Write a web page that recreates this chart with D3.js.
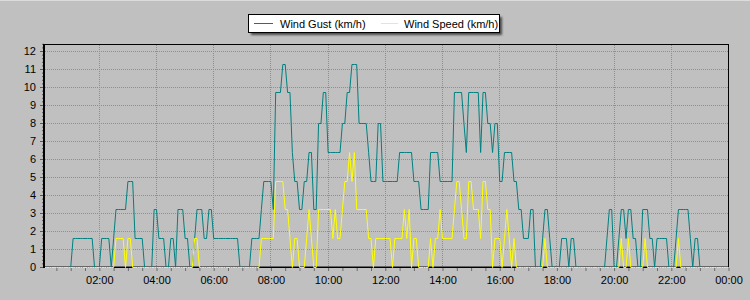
<!DOCTYPE html>
<html>
<head>
<meta charset="utf-8">
<script src="https://cdn.jsdelivr.net/npm/d3@7"></script>
<style>
html,body{margin:0;padding:0;background:#c0c0c0;overflow:hidden}
svg{display:block}
text{font-family:"Liberation Sans",Arial,sans-serif}
</style>
</head>
<body>
<svg id="chart" width="750" height="300"></svg>
<script>
// ---------------- data ----------------
const seriesNames = ["Wind Gust (km/h)", "Wind Speed (km/h)"];
const seriesColors = ["#008080", "#ffff00"];
const firstSampleMinute = 5;   // 00:05
const sampleStepMinutes = 5;   // one reading every 5 minutes, last at 24:00

// one row per hour (12 readings: hh:05 ... hh+1:00)
const gustKmh = [
  0,0,0,0,0,0,0,0,0,0,0,0,
  1.6,1.6,1.6,1.6,1.6,1.6,1.6,1.6,1.6,0,0,0,
  1.6,1.6,1.6,1.6,0,1.6,3.2,3.2,3.2,3.2,3.2,4.8,
  4.8,4.8,1.6,1.6,1.6,1.6,0,0,0,0,3.2,3.2,
  1.6,1.6,1.6,0,0,1.6,1.6,0,3.2,3.2,3.2,1.6,
  1.6,0,0,1.6,3.2,3.2,3.2,1.6,1.6,3.2,3.2,1.6,
  1.6,1.6,1.6,1.6,1.6,1.6,1.6,1.6,1.6,1.6,0,0,
  0,0,0,1.6,1.6,1.6,1.6,3.2,4.8,4.8,4.8,4.8,
  3.2,9.7,9.7,9.7,11.3,11.3,9.7,9.7,6.4,4.8,4.8,3.2,
  3.2,4.8,4.8,6.4,6.4,3.2,3.2,8,8,9.7,9.7,6.4,
  6.4,6.4,6.4,6.4,6.4,8,8,9.7,9.7,11.3,11.3,11.3,
  8,8,8,8,6.4,4.8,4.8,4.8,8,8,4.8,4.8,
  4.8,4.8,4.8,4.8,4.8,6.4,6.4,6.4,6.4,6.4,6.4,4.8,
  4.8,4.8,3.2,3.2,3.2,3.2,6.4,6.4,6.4,6.4,4.8,4.8,
  4.8,4.8,4.8,4.8,9.7,9.7,9.7,9.7,8,6.4,9.7,9.7,
  9.7,9.7,9.7,6.4,9.7,9.7,8,8,6.4,8,8,4.8,
  4.8,6.4,6.4,6.4,6.4,4.8,4.8,3.2,3.2,1.6,1.6,1.6,
  3.2,3.2,0,0,0,1.6,3.2,3.2,1.6,0,0,0,
  0,1.6,1.6,1.6,0,1.6,1.6,0,0,0,0,0,
  0,0,0,0,0,0,0,0,1.6,3.2,3.2,0,
  0,1.6,3.2,3.2,1.6,3.2,3.2,1.6,1.6,0,0,3.2,
  3.2,3.2,1.6,1.6,0,1.6,1.6,1.6,1.6,1.6,0,0,
  0,1.6,3.2,3.2,3.2,3.2,3.2,1.6,0,1.6,1.6,0,
  0,0,0,0,0,0,0,0,0,0,0,0
];

const speedKmh = [
  0,0,0,0,0,0,0,0,0,0,0,0,
  0,0,0,0,0,0,0,0,0,0,0,0,
  0,0,0,0,0,0,1.6,1.6,1.6,1.6,0,1.6,
  1.6,0,0,0,0,0,0,0,0,0,0,0,
  0,0,0,0,0,0,0,0,0,0,0,0,
  0,0,0,1.6,1.6,0,0,0,0,0,0,0,
  0,0,0,0,0,0,0,0,0,0,0,0,
  0,0,0,0,0,0,0,1.6,1.6,1.6,1.6,1.6,
  1.6,4.8,4.8,4.8,4.8,3.2,3.2,1.6,0,1.6,1.6,0,
  0,0,1.6,3.2,1.6,0,0,3.2,3.2,3.2,3.2,3.2,
  3.2,1.6,3.2,1.6,1.6,3.2,4.8,4.8,6.4,4.8,6.4,3.2,
  3.2,3.2,3.2,3.2,1.6,1.6,0,1.6,1.6,1.6,1.6,1.6,
  1.6,1.6,0,1.6,1.6,1.6,1.6,3.2,1.6,3.2,0,1.6,
  1.6,0,0,0,0,0,1.6,0,1.6,1.6,3.2,1.6,
  1.6,1.6,1.6,1.6,3.2,4.8,4.8,3.2,1.6,1.6,4.8,4.8,
  3.2,3.2,3.2,1.6,4.8,4.8,3.2,3.2,0,1.6,1.6,1.6,
  0,1.6,3.2,1.6,0,1.6,0,0,0,0,0,0,
  0,0,0,0,0,0,1.6,0,0,0,0,0,
  0,0,0,0,0,0,0,0,0,0,0,0,
  0,0,0,0,0,0,0,0,0,0,0,0,
  0,0,1.6,0,0,1.6,0,0,0,0,0,0,
  1.6,0,0,0,0,0,0,0,0,0,0,0,
  0,0,1.6,0,0,0,0,0,0,0,0,0,
  0,0,0,0,0,0,0,0,0,0,0,0
];

const yTickValues = [0,1,2,3,4,5,6,7,8,9,10,11,12];
const xLabelMinutes = [120,240,360,480,600,720,840,960,1080,1200,1320,1440];
const xTickLabels = ["02:00","04:00","06:00","08:00","10:00","12:00","14:00","16:00","18:00","20:00","22:00","00:00"];

// ---------------- chart ----------------
const svg = d3.select("#chart");
const plot = {left: 44, top: 44, right: 728.5, bottom: 267};

const sampleMinutes = gustKmh.map((_, i) => firstSampleMinute + i * sampleStepMinutes);
const x = d3.scaleLinear().domain([firstSampleMinute, 1440]).range([44.5, 728.5]);
const y = d3.scaleLinear().domain([0, 12]).range([267, 51]);

svg.append("rect").attr("width", 750).attr("height", 300).attr("fill", "#c0c0c0");
svg.append("line").attr("x1", 0).attr("x2", 750).attr("y1", 0.5).attr("y2", 0.5).attr("stroke", "#dcdcdc");

// grid
const grid = svg.append("g").attr("stroke", "#8e8e8e").attr("stroke-dasharray", "1,1");
grid.selectAll("line.h").data(yTickValues.filter(v => v > 0)).join("line")
  .attr("x1", 45).attr("x2", 728)
  .attr("y1", d => y(d) + 0.5).attr("y2", d => y(d) + 0.5);
grid.selectAll("line.v").data(xLabelMinutes.filter(m => m < 1440)).join("line")
  .attr("x1", d => Math.floor(x(d)) + 0.5).attr("x2", d => Math.floor(x(d)) + 0.5)
  .attr("y1", 45).attr("y2", 266);

// y axis
const minorY = d3.range(0, 12.41, 0.2).filter(v => Math.abs(v - Math.round(v)) > 1e-6);
const yMinor = svg.append("g").attr("transform", "translate(44,0)")
  .call(d3.axisLeft(y).tickValues(minorY).tickSize(2).tickFormat(""));
const yMajor = svg.append("g").attr("transform", "translate(44,0)")
  .call(d3.axisLeft(y).tickValues(yTickValues).tickSize(4).tickPadding(4).tickFormat(d => d));
[yMinor, yMajor].forEach(g => {
  g.select(".domain").remove();
  g.selectAll(".tick line").attr("stroke", "#5a5a5a");
});
yMajor.selectAll("text").attr("font-size", 11).attr("fill", "#000")
  .attr("font-family", "'Liberation Sans',Arial,sans-serif");

// x axis
const halfHours = d3.range(30, 1441, 30);
const labelOf = new Map(xLabelMinutes.map((m, i) => [m, xTickLabels[i]]));
const xAxis = svg.append("g").attr("transform", "translate(0,268)")
  .call(d3.axisBottom(x).tickValues(halfHours).tickSize(3).tickPadding(5)
        .tickFormat(m => labelOf.get(m) || ""));
xAxis.select(".domain").remove();
xAxis.selectAll(".tick line").attr("stroke", "#6a6a6a");
xAxis.selectAll("text").attr("font-size", 11).attr("fill", "#000")
  .attr("font-family", "'Liberation Sans',Arial,sans-serif");

// bottom axis line
svg.append("line").attr("x1", 44).attr("x2", 729).attr("y1", 266.5).attr("y2", 266.5)
  .attr("stroke", "#666");

// data
svg.append("clipPath").attr("id", "clip").append("rect")
  .attr("x", 45).attr("y", 44).attr("width", 684).attr("height", 225);
const dataG = svg.append("g").attr("clip-path", "url(#clip)");

dataG.append("line")
  .attr("x1", x(firstSampleMinute)).attr("x2", x(1440))
  .attr("y1", y(0) + 0.5).attr("y2", y(0) + 0.5)
  .attr("stroke", "#000").attr("stroke-width", 1);

const line = d3.line()
  .x((d, i) => x(sampleMinutes[i]))
  .y(d => Math.round(y(d)) + 0.5);

[gustKmh, speedKmh].forEach((vals, k) => {
  dataG.append("path").attr("d", line(vals))
    .attr("fill", "none").attr("stroke", seriesColors[k]).attr("stroke-width", 1);
});

// frame
svg.append("line").attr("x1", 43).attr("x2", 729).attr("y1", 44.5).attr("y2", 44.5).attr("stroke", "#000");
svg.append("line").attr("x1", 728.5).attr("x2", 728.5).attr("y1", 44).attr("y2", 267).attr("stroke", "#000");
svg.append("line").attr("x1", 44).attr("x2", 44).attr("y1", 44).attr("y2", 268).attr("stroke", "#000").attr("stroke-width", 2);

// legend
const defs = svg.append("defs");
defs.append("filter").attr("id", "shadow").attr("x", "-10%").attr("y", "-50%").attr("width", "120%").attr("height", "200%")
  .append("feGaussianBlur").attr("stdDeviation", 0.8);
const legend = svg.append("g");
legend.append("rect").attr("x", 251).attr("y", 17).attr("width", 251).attr("height", 18)
  .attr("fill", "#4a4a4a").attr("filter", "url(#shadow)");
legend.append("rect").attr("x", 248.5).attr("y", 14.5).attr("width", 251).attr("height", 18)
  .attr("fill", "#fff").attr("stroke", "#000");
const legendItems = [
  {x1: 254, x2: 273, tx: 280},
  {x1: 381, x2: 398, tx: 404}
];
legendItems.forEach((it, k) => {
  legend.append("line").attr("x1", it.x1).attr("x2", it.x2).attr("y1", 23.5).attr("y2", 23.5)
    .attr("stroke", seriesColors[k]);
  legend.append("text").attr("x", it.tx).attr("y", 27.5).attr("font-size", 11).attr("fill", "#000")
    .text(seriesNames[k]);
});
</script>
</body>
</html>
